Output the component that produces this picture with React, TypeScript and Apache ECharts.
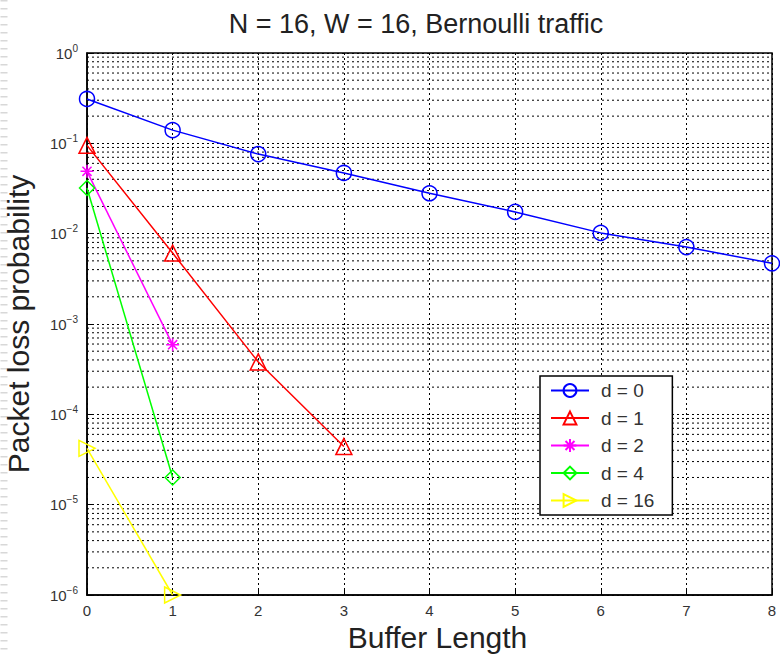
import React, { useEffect, useRef } from "react";
import * as echarts from "echarts";

const bufferLengths = [0, 1, 2, 3, 4, 5, 6, 7, 8];
const d0 = [0.31, 0.14, 0.076, 0.047, 0.028, 0.0174, 0.0102, 0.0071, 0.0047];
const d1 = [0.095, 0.0061, 0.00038, 0.000044];
const d2 = [0.049, 0.00059];
const d4 = [0.032, 0.00002];
const d16 = [0.000042, 0.000001];
const seriesNames = ["d = 0", "d = 1", "d = 2", "d = 4", "d = 16"];
const seriesColors = ["#0000ff", "#ff0000", "#ff00ff", "#00ff00", "#ffff00"];
const yDecades = [-6, -5, -4, -3, -2, -1];
const minorMultipliers = [2, 3, 4, 5, 6, 7, 8, 9];

const STAR = "path://M5,0 L5,10 M0,5 L10,5 M1.5,1.5 L8.5,8.5 M8.5,1.5 L1.5,8.5";
const RIGHT_TRI = "path://M0,0 L10,5 L0,10 Z";
const FONT = "Liberation Sans";

export default function App() {
  const ref = useRef<HTMLDivElement>(null);
  useEffect(() => {
    if (!ref.current) return;
    const chart = echarts.init(ref.current, undefined, { renderer: "svg" });
    const allData = [d0, d1, d2, d4, d16];
    const symbols = ["circle", "triangle", STAR, "diamond", RIGHT_TRI];
    const sizes = [15, 16, 13, 15, 16];
    const minorValues: number[][] = [];
    yDecades.forEach((e) =>
      minorMultipliers.forEach((m) => minorValues.push([0, m * Math.pow(10, e)]))
    );
    const series: any[] = [
      {
        name: "minorGrid",
        type: "custom",
        silent: true,
        z: 1,
        encode: { x: 0, y: 1 },
        data: minorValues,
        renderItem: (_p: any, api: any) => {
          const v = api.value(1);
          const a = api.coord([bufferLengths[0], v]);
          const b = api.coord([bufferLengths[bufferLengths.length - 1], v]);
          return {
            type: "line",
            shape: { x1: a[0], y1: a[1], x2: b[0], y2: b[1] },
            style: { stroke: "#000", lineWidth: 1, lineDash: [2, 3] },
          };
        },
      },
    ];
    allData.forEach((arr, i) =>
      series.push({
        name: seriesNames[i],
        type: "line",
        data: arr.map((v, j) => [bufferLengths[j], v]),
        symbol: symbols[i],
        symbolSize: sizes[i],
        showSymbol: true,
        lineStyle: { color: seriesColors[i], width: 1.5 },
        itemStyle: {
          color: "rgba(255,255,255,0)",
          borderColor: seriesColors[i],
          borderWidth: 1.5,
        },
        z: 5 + i,
      })
    );
    chart.setOption({
      animation: false,
      backgroundColor: "#fff",
      title: {
        text: "N = 16, W = 16, Bernoulli traffic",
        left: 411,
        top: 5,
        textAlign: "center",
        textStyle: {
          fontFamily: FONT,
          fontSize: 27,
          fontWeight: "normal",
          color: "#222",
        },
      },
      legend: {
        data: seriesNames,
        orient: "vertical",
        left: 540,
        top: 376,
        padding: [5, 18, 5, 10],
        itemGap: 8.5,
        itemWidth: 38,
        itemHeight: 16,
        backgroundColor: "#fff",
        borderColor: "#000",
        borderWidth: 1.5,
        borderRadius: 0,
        textStyle: {
          fontFamily: FONT,
          fontSize: 19,
          lineHeight: 16,
          color: "#333",
          padding: [0, 0, 0, 7],
        },
      },
      grid: {
        left: 87,
        right: 8,
        top: 53,
        bottom: 60,
        containLabel: false,
        outerBoundsMode: "none",
        show: true,
        borderColor: "#000",
        borderWidth: 1.5,
        backgroundColor: "#fff",
      },
      xAxis: {
        type: "value",
        min: 0,
        max: 8,
        interval: 1,
        name: "Buffer Length",
        nameLocation: "middle",
        nameGap: 24,
        nameTextStyle: { fontFamily: FONT, fontSize: 30, color: "#222", padding: [0, 0, 0, 16] },
        axisLine: { show: true, onZero: false, lineStyle: { color: "#000", width: 1.5 } },
        axisTick: { show: true, inside: true, length: 5, lineStyle: { color: "#000" } },
        axisLabel: { fontFamily: FONT, fontSize: 15, color: "#333", margin: 8 },
        splitLine: { show: true, lineStyle: { color: "#000", type: [2, 3], width: 1 } },
      },
      yAxis: {
        type: "log",
        logBase: 10,
        min: 1e-6,
        max: 1,
        name: "Packet loss probability",
        nameLocation: "middle",
        nameGap: 54,
        nameTextStyle: { fontFamily: FONT, fontSize: 30, color: "#222" },
        axisLine: { show: true, lineStyle: { color: "#000", width: 1.5 } },
        axisTick: { show: true, inside: true, length: 5, lineStyle: { color: "#000" } },
        axisLabel: {
          margin: 9,
          color: "#333",
          fontFamily: FONT,
          fontSize: 15,
          formatter: (v: number) => {
            const e = Math.round(Math.log10(v));
            return "{base|10}{sup|" + (e === 0 ? "0" : "\u2212" + Math.abs(e)) + "}";
          },
          rich: {
            base: {
              fontSize: 15,
              fontFamily: FONT,
              color: "#333",
            },
            sup: {
              fontSize: 10,
              verticalAlign: "top",
              padding: [0, 0, 10, 0],
              fontFamily: FONT,
              color: "#333",
            },
          },
        },
        splitLine: { show: true, lineStyle: { color: "#000", type: [2, 3], width: 1 } },
      },
      graphic: [
        {
          type: "line",
          shape: { x1: 4, y1: 0, x2: 4, y2: 655 },
          style: { stroke: "#d8d8d8", lineWidth: 7, lineDash: [1.5, 6.5] },
          silent: true,
        },
      ],
      series,
    });
    return () => chart.dispose();
  }, []);
  return (
    <div
      ref={ref}
      style={{ position: "fixed", left: 0, top: 0, width: 780, height: 655 }}
    />
  );
}
